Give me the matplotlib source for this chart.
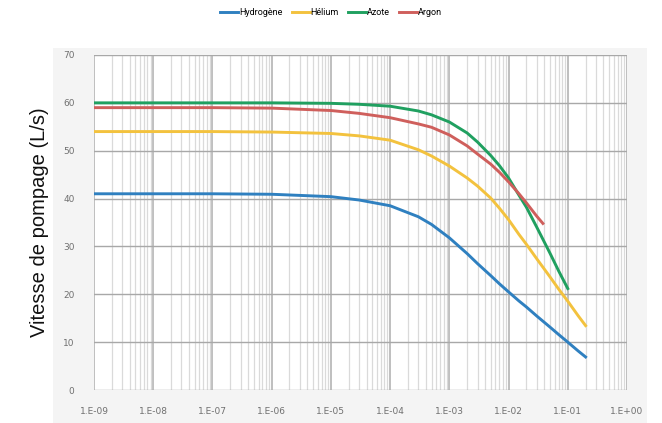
import matplotlib.pyplot as plt
from matplotlib.patches import Rectangle
from matplotlib.ticker import LogLocator, FixedLocator

# pression (mbar) et vitesse de pompage (L/s)
pression_h2 = [1e-9, 1e-8, 1e-7, 1e-6, 1e-5, 3e-5, 1e-4, 3e-4, 5e-4, 1e-3, 2e-3, 3e-3, 5e-3, 7e-3,
               1e-2, 1.5e-2, 2e-2, 3e-2, 5e-2, 7e-2, 1e-1, 1.5e-1, 2e-1]
hydrogene = [41.0, 41.0, 41.0, 40.9, 40.4, 39.7, 38.5, 36.2, 34.6, 31.8, 28.5, 26.4, 23.9, 22.2,
             20.5, 18.6, 17.35, 15.45, 13.15, 11.6, 10.0, 8.15, 6.9]

pression_he = [1e-9, 1e-8, 1e-7, 1e-6, 1e-5, 3e-5, 1e-4, 3e-4, 5e-4, 1e-3, 2e-3, 3e-3, 5e-3, 7e-3,
               1e-2, 1.5e-2, 2e-2, 3e-2, 5e-2, 7e-2, 1e-1, 1.5e-1, 2e-1]
helium = [54.0, 54.0, 54.0, 53.9, 53.6, 53.1, 52.2, 50.2, 48.9, 46.8, 44.3, 42.6, 40.1, 38.0,
          35.6, 32.5, 30.45, 27.4, 23.65, 21.1, 18.55, 15.5, 13.45]

pression_n2 = [1e-9, 1e-8, 1e-7, 1e-6, 1e-5, 3e-5, 1e-4, 3e-4, 5e-4, 1e-3, 2e-3, 3e-3, 5e-3, 7e-3,
               1e-2, 1.5e-2, 2e-2, 3e-2, 5e-2, 7e-2, 1e-1]
azote = [60.0, 60.0, 60.0, 60.0, 59.9, 59.7, 59.3, 58.3, 57.5, 56.0, 53.7, 51.8, 49.0, 46.9,
         44.3, 40.7, 38.2, 34.0, 28.6, 24.9, 21.2]

pression_ar = [1e-9, 1e-8, 1e-7, 1e-6, 1e-5, 3e-5, 1e-4, 3e-4, 5e-4, 1e-3, 2e-3, 3e-3, 5e-3, 7e-3,
               1e-2, 1.5e-2, 2e-2, 3e-2, 3.8e-2]
argon = [59.0, 59.0, 59.0, 58.9, 58.4, 57.8, 56.9, 55.6, 54.9, 53.3, 51.0, 49.3, 47.2, 45.5,
         43.5, 41.0, 39.1, 36.3, 34.8]

x_ticks = [1e-9, 1e-8, 1e-7, 1e-6, 1e-5, 1e-4, 1e-3, 1e-2, 1e-1, 1e0]
x_labels = ['1.E-09', '1.E-08', '1.E-07', '1.E-06', '1.E-05', '1.E-04', '1.E-03', '1.E-02', '1.E-01', '1.E+00']

fig = plt.figure(figsize=(6.62, 4.23), dpi=100)
fig.patch.set_facecolor('white')

# panneau gris clair derriere le graphique
fig.patches.append(Rectangle((53 / 662, 0), (647 - 53) / 662, 1 - 48 / 423,
                             transform=fig.transFigure, facecolor='#f4f4f4',
                             edgecolor='none', zorder=0))

ax = fig.add_axes([94 / 662, 1 - 390 / 423, (627 - 94) / 662, (390 - 55) / 423])
ax.set_zorder(2)
ax.set_facecolor('white')

ax.plot(pression_h2, hydrogene, color='#2f80c0', lw=2.1, label='Hydrogène', zorder=3)
ax.plot(pression_he, helium, color='#f3c23e', lw=2.1, label='Hélium', zorder=3)
ax.plot(pression_n2, azote, color='#20a060', lw=2.1, label='Azote', zorder=3)
ax.plot(pression_ar, argon, color='#cf5f5c', lw=2.1, label='Argon', zorder=3)

ax.set_xscale('log')
ax.set_xlim(1e-9, 1e0)
ax.set_ylim(0, 70)

ax.xaxis.set_major_locator(FixedLocator(x_ticks))
ax.set_xticklabels(x_labels)
ax.xaxis.set_minor_locator(LogLocator(base=10, subs=range(2, 10), numticks=20))
ax.set_yticks(range(0, 71, 10))

ax.grid(which='major', axis='x', color='#b4b4b4', lw=1.2)
ax.grid(which='minor', axis='x', color='#dadada', lw=0.9)
ax.grid(which='major', axis='y', color='#a8a8a8', lw=1.0)
ax.set_axisbelow(True)

for s in ax.spines.values():
    s.set_visible(False)
ax.tick_params(which='both', length=0)
ax.tick_params(axis='x', labelsize=6.5, labelcolor='#707070', pad=12)
ax.tick_params(axis='y', labelsize=6.5, labelcolor='#707070', pad=14)

ax.set_ylabel('Vitesse de pompage (L/s)', fontsize=14.5, color='#111111', labelpad=10,
              family='Liberation Sans')

fig.legend(loc='upper center', bbox_to_anchor=(0.5, 1.0), ncol=4, frameon=False,
           handlelength=2.0, handletextpad=0.1, columnspacing=1.0,
           prop={'family': 'Roboto', 'size': 6.5})

fig.savefig('out.png', dpi=100, facecolor='white')
